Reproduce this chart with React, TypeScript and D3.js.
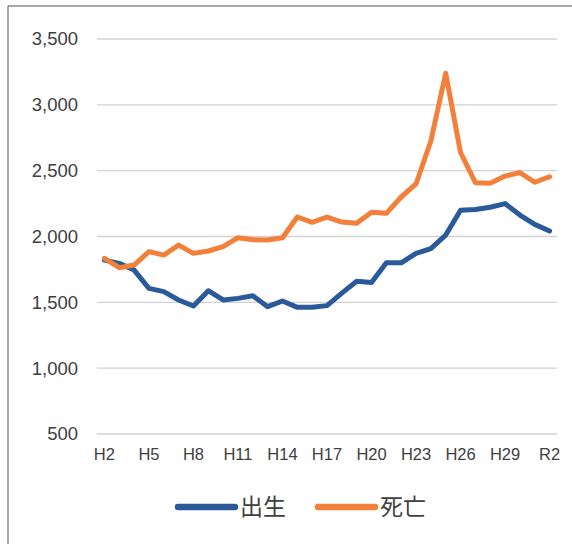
import React from "react";
import * as d3 from "d3";

const categories = [
  "H2","H3","H4","H5","H6","H7","H8","H9","H10","H11","H12","H13","H14","H15","H16",
  "H17","H18","H19","H20","H21","H22","H23","H24","H25","H26","H27","H28","H29","H30","R1","R2",
];
const tickLabels = ["H2","H5","H8","H11","H14","H17","H20","H23","H26","H29","R2"];
const births = [1821,1796,1745,1606,1581,1518,1472,1588,1518,1530,1550,1467,1510,1462,1462,1475,1570,1660,1650,1801,1800,1872,1908,2011,2200,2205,2222,2250,2163,2092,2042];
const deaths = [1834,1763,1783,1885,1859,1935,1872,1890,1923,1991,1975,1973,1990,2148,2108,2148,2110,2100,2185,2176,2300,2399,2725,3240,2638,2409,2404,2459,2485,2412,2454];
const yTicks = [500, 1000, 1500, 2000, 2500, 3000, 3500];
const seriesNames = ["出生", "死亡"];
const colors = ["#2A5A99", "#F2803A"];

export default function App() {
  const W = 572, H = 544;
  const x = d3.scaleBand<string>().domain(categories).range([97, 557]);
  const y = d3.scaleLinear().domain([500, 3500]).range([434, 39]);
  const cx = (c: string) => (x(c) as number) + x.bandwidth() / 2;
  const line = d3.line<number>().x((_, i) => cx(categories[i])).y((v) => y(v));
  const series = [births, deaths];
  const textColor = "#404040";
  return (
    <svg width={W} height={H} style={{ position: "absolute", left: 0, top: 0, background: "#fff" }}>
      <line x1={8} y1={6} x2={W} y2={6} stroke="#8a8a8a" strokeWidth={1.5} />
      <line x1={8} y1={6} x2={8} y2={H} stroke="#8a8a8a" strokeWidth={1.5} />
      {yTicks.map((t) => (
        <g key={t}>
          <line x1={97} x2={557} y1={y(t)} y2={y(t)} stroke="#d2d2d2" strokeWidth={1.4} />
          <text x={78} y={y(t)} dy="0.35em" textAnchor="end" fontFamily="'Liberation Sans', Arial, sans-serif" fontSize={18.5} fill={textColor}>
            {d3.format(",")(t)}
          </text>
        </g>
      ))}
      {tickLabels.map((c) => (
        <text key={c} x={cx(c)} y={460} textAnchor="middle" fontFamily="'Liberation Sans', Arial, sans-serif" fontSize={16.5} fill={textColor}>
          {c}
        </text>
      ))}
      {series.map((s, k) => (
        <path key={k} d={line(s) || ""} fill="none" stroke={colors[k]} strokeWidth={5} strokeLinejoin="round" strokeLinecap="round" />
      ))}
      {seriesNames.map((n, k) => {
        const lx = k === 0 ? 178 : 318;
        return (
          <g key={n}>
            <line x1={lx} x2={lx + 57} y1={507} y2={507} stroke={colors[k]} strokeWidth={6.5} strokeLinecap="round" />
            <text x={lx + 62} y={507} dy="0.36em" fontFamily="'Noto Sans CJK JP', sans-serif" fontSize={23} fill={textColor}>
              {n}
            </text>
          </g>
        );
      })}
    </svg>
  );
}
